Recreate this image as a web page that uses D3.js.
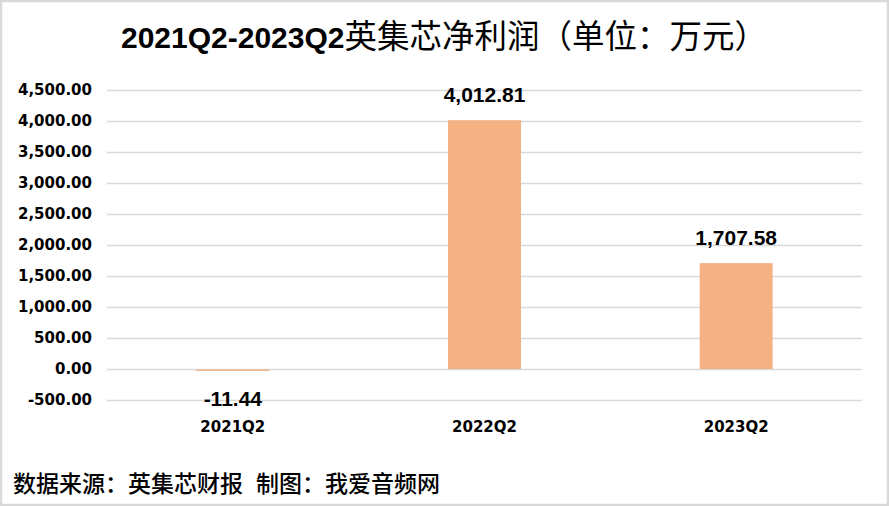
<!DOCTYPE html>
<html>
<head>
<meta charset="utf-8">
<script src="https://cdn.jsdelivr.net/npm/d3@7"></script>
<style>
  body { margin: 0; background: #fff; }
  svg { display: block; }
</style>
</head>
<body>
<div id="chart-area"></div>
<script>
// data
var quarters = ["2021Q2", "2022Q2", "2023Q2"];
var profits = [-11.44, 4012.81, 1707.58];
var yTicks = [-500, 0, 500, 1000, 1500, 2000, 2500, 3000, 3500, 4000, 4500];
var titleLatin = "2021Q2-2023Q2";
var titleCjk = "英集芯净利润（单位：万元）";
var footerSource = "数据来源：英集芯财报";
var footerMaker = "制图：我爱音频网";

var W = 889, H = 506;
var margin = { left: 107, right: 27, top: 90, bottom: 106 };
var width = W - margin.left - margin.right,
    height = H - margin.top - margin.bottom;

// hyphen instead of unicode minus, like the source
var fmt = function(v){ return d3.format(",.2f")(v).replace("\u2212", "-"); };

var svg = d3.select("#chart-area")
    .append("svg")
        .attr("width", W)
        .attr("height", H);

// frame
svg.append("rect")
    .attr("x", 1).attr("y", 1)
    .attr("width", W - 2).attr("height", H - 2)
    .attr("fill", "#fff")
    .attr("stroke", "#d9d9d9")
    .attr("stroke-width", 2.5);

// title: bold latin part, regular CJK part
var title = svg.append("text")
    .attr("x", 121)
    .attr("y", 48)
    .attr("fill", "#000");
title.append("tspan")
    .attr("font-family", "'Liberation Sans', sans-serif")
    .attr("font-weight", "bold")
    .attr("font-size", "30px")
    .text(titleLatin);
title.append("tspan")
    .attr("font-family", "'Noto Sans CJK SC', sans-serif")
    .attr("font-weight", "normal")
    .attr("font-size", "32.5px")
    .text(titleCjk);

var g = svg.append("g")
    .attr("transform", "translate(" + margin.left + "," + margin.top + ")");

// scales
var x = d3.scaleBand()
    .domain(quarters)
    .range([0, width])
    .paddingInner(0.71)
    .paddingOuter(0.355);
var y = d3.scaleLinear()
    .domain([-500, 4500])
    .range([height, 0]);

// y axis + gridlines
var yAxisCall = d3.axisLeft(y)
    .tickValues(yTicks)
    .tickSize(-width)
    .tickPadding(15)
    .tickFormat(fmt);
var yAxisGroup = g.append("g").attr("class", "y axis").call(yAxisCall);
yAxisGroup.select(".domain").remove();
yAxisGroup.selectAll("line")
    .attr("stroke", "#d9d9d9")
    .attr("stroke-width", 1.5);
yAxisGroup.selectAll("text")
    .attr("font-family", "'DejaVu Sans', sans-serif")
    .attr("font-weight", "bold")
    .attr("font-size", "15px")
    .attr("fill", "#000");

// bars
g.selectAll("rect.bar")
    .data(profits)
    .enter()
    .append("rect")
        .attr("class", "bar")
        .attr("fill", "#f4b183")
        .attr("x", function(d, i){ return x(quarters[i]); })
        .attr("width", x.bandwidth())
        .attr("y", function(d){ return d < 0 ? y(0) + 0.5 : y(d); })
        .attr("height", function(d){ return Math.max(Math.abs(y(d) - y(0)), 1.5); });

// value labels
g.selectAll("text.value")
    .data(profits)
    .enter()
    .append("text")
        .attr("class", "value")
        .attr("x", function(d, i){ return x(quarters[i]) + x.bandwidth() / 2; })
        .attr("y", function(d){ return d < 0 ? y(d) + 36 : y(d) - 18; })
        .attr("text-anchor", "middle")
        .attr("font-family", "'Liberation Sans', sans-serif")
        .attr("font-weight", "bold")
        .attr("font-size", "21px")
        .attr("fill", "#000")
        .text(fmt);

// category labels
var xAxisCall = d3.axisBottom(x).tickSize(0).tickPadding(0);
var xAxisGroup = g.append("g")
    .attr("class", "x axis")
    .attr("transform", "translate(0," + (height + 21) + ")")
    .call(xAxisCall);
xAxisGroup.select(".domain").remove();
xAxisGroup.selectAll("text")
    .attr("dy", "0.71em")
    .attr("font-family", "'DejaVu Sans', sans-serif")
    .attr("font-weight", "bold")
    .attr("font-size", "15px")
    .attr("fill", "#000");

// footer
var foot = svg.append("text")
    .attr("x", 13)
    .attr("y", 492)
    .attr("font-family", "'Noto Sans CJK SC', sans-serif")
    .attr("font-weight", 500)
    .attr("font-size", "23px")
    .attr("fill", "#000");
foot.append("tspan").text(footerSource);
foot.append("tspan").attr("dx", 13).text(footerMaker);
</script>
</body>
</html>
